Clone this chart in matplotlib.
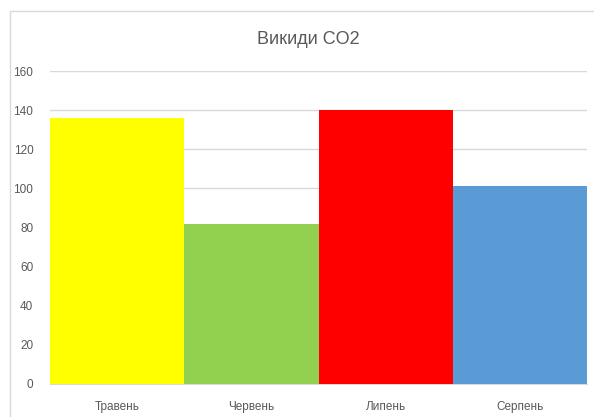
import matplotlib
matplotlib.use("Agg")
import matplotlib.pyplot as plt
from matplotlib.patches import Rectangle

months = ["Травень", "Червень", "Липень", "Серпень"]
emissions = [136, 82, 140, 101]
bar_colors = ["#FFFF00", "#92D050", "#FF0000", "#5B9BD5"]
y_ticks = [0, 20, 40, 60, 80, 100, 120, 140, 160]

plt.rcParams["font.family"] = ["Liberation Sans", "DejaVu Sans"]

fig = plt.figure(figsize=(5.94, 4.17), dpi=100)
fig.patch.set_facecolor("white")

# chart frame
fig.add_artist(Rectangle((10 / 594, -0.05), 1.0, 1 - 11 / 417 + 0.05,
                         transform=fig.transFigure, fill=False,
                         edgecolor="#D9D9D9", linewidth=1.0))

ax = fig.add_axes([50 / 594, 1 - 384 / 417, 537 / 594, (384 - 71) / 417])
x = range(len(months))
ax.bar(x, emissions, width=1.0, color=bar_colors, zorder=3)
ax.set_xlim(-0.5, len(months) - 0.5)
ax.set_ylim(0, 160)
ax.set_yticks(y_ticks)
ax.set_xticks(list(x))
ax.set_xticklabels(months)
ax.grid(axis="y", color="#D9D9D9", linewidth=1.0, zorder=0)
for s in ["top", "right", "left"]:
    ax.spines[s].set_visible(False)
ax.spines["bottom"].set_color("#D9D9D9")
ax.tick_params(axis="both", length=0, colors="#595959", labelsize=8.5)
ax.tick_params(axis="y", pad=12)
ax.tick_params(axis="x", pad=12)

fig.text(308 / 594, 1 - 40 / 417, "Викиди CO2", ha="center", va="center",
         fontsize=13, color="#595959")

fig.savefig("out.png", dpi=100, facecolor="white")
